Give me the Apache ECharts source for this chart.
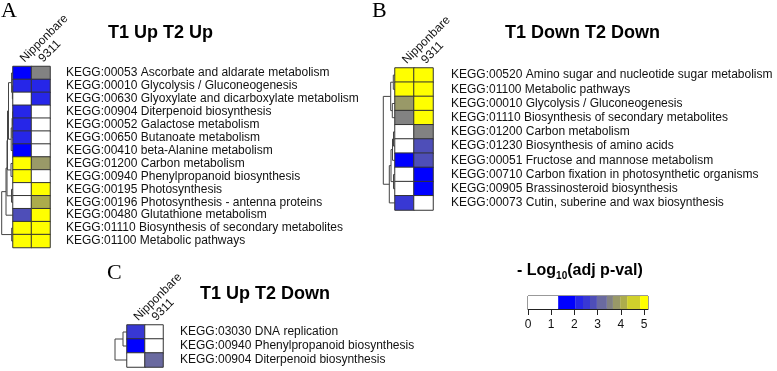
<!DOCTYPE html>
<html style="height: 100%">
<head>
	<meta charset="utf-8">
	<script src="https://cdn.jsdelivr.net/npm/echarts@6/dist/echarts.min.js"></script>
</head>
<body style="height: 100%; margin: 0; background: #fff">
	<div id="container" style="width: 777px; height: 371px"></div>
	<script type="text/javascript">
		// column names shared by all three heatmaps
		let columns = ['Nipponbare', '9311'];

		// panel A: T1 Up T2 Up
		let labelsA = [
			'KEGG:00053 Ascorbate and aldarate metabolism',
			'KEGG:00010 Glycolysis / Gluconeogenesis',
			'KEGG:00630 Glyoxylate and dicarboxylate metabolism',
			'KEGG:00904 Diterpenoid biosynthesis',
			'KEGG:00052 Galactose metabolism',
			'KEGG:00650 Butanoate metabolism',
			'KEGG:00410 beta-Alanine metabolism',
			'KEGG:01200 Carbon metabolism',
			'KEGG:00940 Phenylpropanoid biosynthesis',
			'KEGG:00195 Photosynthesis',
			'KEGG:00196 Photosynthesis - antenna proteins',
			'KEGG:00480 Glutathione metabolism',
			'KEGG:01110 Biosynthesis of secondary metabolites',
			'KEGG:01100 Metabolic pathways'
		];
		let nipponA = [1.6, 2.2, 0, 2.2, 2.2, 2.2, 1.6, 5, 5, 0, 0, 2.8, 5, 5];
		let o9311A = [3.5, 2.2, 2.2, 0, 0, 0, 0, 3.8, 0, 5, 4.1, 5, 5, 5];
		// hclust style merges: negative = row (1-based), positive = earlier merge
		let mergesA = [
			[-2, -3, 0.6], [-4, -5, 0.4], [2, -6, 0.9], [-1, 1, 1.4], [3, -7, 1.8],
			[4, 5, 4.5], [-8, -9, 2.0], [6, 7, 5.5], [-10, -11, 1.5], [8, 9, 6.0],
			[10, -12, 7.0], [-13, -14, 1.3], [11, 12, 11.3]
		];

		// panel B: T1 Down T2 Down
		let labelsB = [
			'KEGG:00520 Amino sugar and nucleotide sugar metabolism',
			'KEGG:01100 Metabolic pathways',
			'KEGG:00010 Glycolysis / Gluconeogenesis',
			'KEGG:01110 Biosynthesis of secondary metabolites',
			'KEGG:01200 Carbon metabolism',
			'KEGG:01230 Biosynthesis of amino acids',
			'KEGG:00051 Fructose and mannose metabolism',
			'KEGG:00710 Carbon fixation in photosynthetic organisms',
			'KEGG:00905 Brassinosteroid biosynthesis',
			'KEGG:00073 Cutin, suberine and wax biosynthesis'
		];
		let nipponB = [5, 5, 3.8, 3.5, 0, 0, 1.6, 0, 0, 2.5];
		let o9311B = [5, 5, 5, 5, 3.5, 2.8, 2.8, 1.6, 1.6, 0];
		let mergesB = [
			[-1, -2, 1.7], [-3, -4, 2.7], [1, 2, 4.3], [-5, -6, 1.5], [4, -7, 2.5],
			[-8, -9, 1.5], [5, 6, 4.0], [7, -10, 5.7], [3, 8, 11.7]
		];

		// panel C: T1 Up T2 Down
		let labelsC = [
			'KEGG:03030 DNA replication',
			'KEGG:00940 Phenylpropanoid biosynthesis',
			'KEGG:00904 Diterpenoid biosynthesis'
		];
		let nipponC = [2.5, 1.6, 0];
		let o9311C = [0, 0, 3.2];
		let mergesC = [[-1, -2, 4], [1, -3, 12]];

		// colour key: -log10(adj p-val) breaks and colours
		let keyBreaks = [0, 1.3, 2.03, 2.37, 2.67, 2.97, 3.4, 3.66, 3.97, 4.27, 4.83, 5.17];
		let keyColors = ['#ffffff', '#0000ff', '#2626e8', '#3838d4', '#4e4eb8', '#6a6aa0',
			'#828282', '#999968', '#acac4c', '#d0d02c', '#ffff00'];
		let keyTicks = [0, 1, 2, 3, 4, 5];

		let dom = document.getElementById('container');
		let myChart = echarts.init(dom, null, { renderer: 'canvas' });

		function cells(nip, o9311) {
			let out = [];
			for (let i = 0; i < nip.length; i++) {
				out.push([0, i, nip[i]]);
				out.push([1, i, o9311[i]]);
			}
			return out;
		}

		// turn merges into segments [pos1, h1, pos2, h2, h]
		function dendro(merges) {
			let pos = [], hgt = [], segs = [];
			merges.forEach(function (m, k) {
				let p = [], h = [];
				for (let j = 0; j < 2; j++) {
					let c = m[j];
					if (c < 0) { p.push(-c - 1); h.push(0); }
					else { p.push(pos[c - 1]); h.push(hgt[c - 1]); }
				}
				pos[k] = (p[0] + p[1]) / 2;
				hgt[k] = m[2];
				segs.push([p[0], h[0], p[1], h[1], m[2]]);
			});
			return segs;
		}

		function dendroItem(params, api) {
			let a = api.coord([api.value(1), api.value(0)]);
			let b = api.coord([api.value(4), api.value(0)]);
			let c = api.coord([api.value(4), api.value(2)]);
			let d = api.coord([api.value(3), api.value(2)]);
			return {
				type: 'polyline',
				shape: { points: [a, b, c, d] },
				style: { stroke: '#444', lineWidth: 1, fill: null }
			};
		}

		function keyItem(params, api) {
			let p0 = api.coord([api.value(0), 1]);
			let p1 = api.coord([api.value(1), 0]);
			return {
				type: 'rect',
				shape: { x: p0[0], y: p0[1], width: p1[0] - p0[0], height: p1[1] - p0[1] },
				style: { fill: api.visual('color') }
			};
		}

		let pieces = [];
		let keyData = [];
		for (let i = 0; i < keyColors.length; i++) {
			pieces.push({
				min: i === 0 ? -1 : keyBreaks[i],
				max: i === keyColors.length - 1 ? 10 : keyBreaks[i + 1],
				color: keyColors[i]
			});
			keyData.push([keyBreaks[i], keyBreaks[i + 1], (keyBreaks[i] + keyBreaks[i + 1]) / 2]);
		}

		let font = 'Liberation Sans';
		let panels = [
			{ labels: labelsA, box: { left: 13, top: 66.5, width: 37, height: 181 }, dw: 13, margin: 16 },
			{ labels: labelsB, box: { left: 395, top: 68, width: 38, height: 142 }, dw: 15, margin: 18 },
			{ labels: labelsC, box: { left: 127, top: 325, width: 36, height: 42 }, dw: 17, margin: 17 }
		];
		let heatData = [cells(nipponA, o9311A), cells(nipponB, o9311B), cells(nipponC, o9311C)];
		let dendData = [dendro(mergesA), dendro(mergesB), dendro(mergesC)];

		let grid = [], xAxis = [], yAxis = [], series = [];
		panels.forEach(function (p, i) {
			grid.push({ left: p.box.left, top: p.box.top, width: p.box.width, height: p.box.height, outerBoundsMode: 'none' });
			xAxis.push({
				type: 'category', data: columns, gridIndex: grid.length - 1, position: 'top',
				axisLine: { show: false }, axisTick: { show: false },
				axisLabel: { rotate: -45, fontSize: 12, color: '#111', fontFamily: font, margin: 6, interval: 0 }
			});
			yAxis.push({
				type: 'category', data: p.labels, gridIndex: grid.length - 1, inverse: true, position: 'right',
				axisLine: { show: false }, axisTick: { show: false },
				axisLabel: { fontSize: 12, color: '#111', fontFamily: font, margin: p.margin, interval: 0 }
			});
			series.push({
				type: 'heatmap', xAxisIndex: xAxis.length - 1, yAxisIndex: yAxis.length - 1,
				data: heatData[i],
				itemStyle: { borderColor: '#333', borderWidth: 1 },
				emphasis: { disabled: true }
			});
		});

		// colour key grid
		grid.push({ left: 528, top: 296, width: 120, height: 13, show: true, borderColor: '#333', borderWidth: 1, outerBoundsMode: 'none' });
		xAxis.push({
			type: 'value', gridIndex: grid.length - 1, min: 0, max: keyBreaks[keyBreaks.length - 1],
			splitLine: { show: false },
			axisLine: { show: true, lineStyle: { color: '#222' } },
			axisTick: { show: true, length: 6, customValues: keyTicks, lineStyle: { color: '#222' } },
			axisLabel: { customValues: keyTicks, fontSize: 12, color: '#111', fontFamily: font, margin: 10 }
		});
		yAxis.push({ type: 'value', gridIndex: grid.length - 1, min: 0, max: 1, show: false });
		series.push({
			type: 'custom', xAxisIndex: xAxis.length - 1, yAxisIndex: yAxis.length - 1,
			renderItem: keyItem, data: keyData, silent: true
		});

		// dendrograms
		panels.forEach(function (p, i) {
			grid.push({ left: p.box.left - p.dw, top: p.box.top, width: p.dw, height: p.box.height, outerBoundsMode: 'none' });
			xAxis.push({ type: 'value', gridIndex: grid.length - 1, min: 0, max: p.dw, inverse: true, show: false });
			yAxis.push({ type: 'value', gridIndex: grid.length - 1, min: -0.5, max: p.labels.length - 0.5, inverse: true, show: false });
			series.push({
				type: 'custom', xAxisIndex: xAxis.length - 1, yAxisIndex: yAxis.length - 1,
				renderItem: dendroItem, data: dendData[i], silent: true
			});
		});

		let titleStyle = { fontSize: 18, fontWeight: 'bold', color: '#000', fontFamily: font };
		let letterStyle = { fontSize: 22, fontWeight: 'normal', color: '#000', fontFamily: 'Liberation Serif' };

		let option = {
			animation: false,
			title: [
				{ text: 'T1 Up T2 Up', left: 108, top: 24, padding: 0, textStyle: titleStyle },
				{ text: 'T1 Down T2 Down', left: 505, top: 24, padding: 0, textStyle: titleStyle },
				{ text: 'T1 Up T2 Down', left: 200, top: 285, padding: 0, textStyle: titleStyle },
				{ text: 'A', left: 1, top: 0, padding: 0, textStyle: letterStyle },
				{ text: 'B', left: 372, top: 0, padding: 0, textStyle: letterStyle },
				{ text: 'C', left: 107, top: 262, padding: 0, textStyle: letterStyle },
				{
					text: '- Log{sub|10}(adj p-val)', left: 517, top: 261, padding: 0,
					textStyle: {
						fontSize: 16, fontWeight: 'bold', color: '#000', fontFamily: font, lineHeight: 20,
						rich: { sub: { fontSize: 10, fontWeight: 'bold', fontFamily: font, color: '#000', verticalAlign: 'bottom', lineHeight: 8 } }
					}
				}
			],
			visualMap: {
				type: 'piecewise', show: false, dimension: 2,
				seriesIndex: [0, 1, 2, 3], pieces: pieces
			},
			grid: grid,
			xAxis: xAxis,
			yAxis: yAxis,
			series: series
		};

		myChart.setOption(option);
	</script>
</body>
</html>
